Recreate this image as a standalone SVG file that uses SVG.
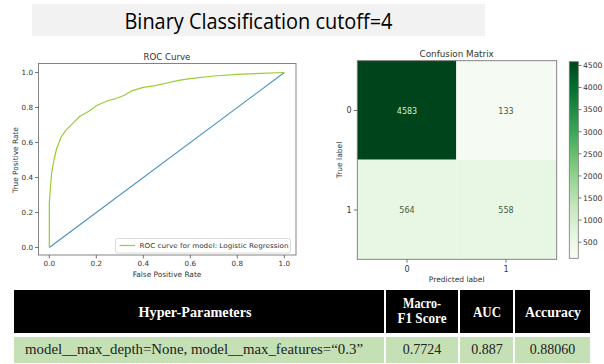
<svg xmlns="http://www.w3.org/2000/svg" width="604" height="364" viewBox="0 0 604 364">
<style>
  .mpl { font-family: "DejaVu Sans", sans-serif; fill: #333; }
  .tick { font-size: 7.2px; }
  .lab { font-size: 7.4px; }
  .ttl { font-size: 8.6px; }
  .frame { fill: none; stroke: #777; stroke-width: 0.9; }
  .tk { stroke: #555; stroke-width: 0.8; }
  .th { font-family: "Liberation Serif", "Times New Roman", serif; font-weight: bold; font-size: 14px; fill: #fff; text-anchor: middle; }
  .td { font-family: "Liberation Serif", "Times New Roman", serif; font-size: 14px; fill: #222; text-anchor: middle; }
  .cm { font-size: 8px; text-anchor: middle; }
</style>
<defs>
  <linearGradient id="greens" x1="0" y1="1" x2="0" y2="0">
    <stop offset="0" stop-color="#f7fcf5"/>
    <stop offset="0.125" stop-color="#e5f5e0"/>
    <stop offset="0.25" stop-color="#c7e9c0"/>
    <stop offset="0.375" stop-color="#a1d99b"/>
    <stop offset="0.5" stop-color="#74c476"/>
    <stop offset="0.625" stop-color="#41ab5d"/>
    <stop offset="0.75" stop-color="#238b45"/>
    <stop offset="0.875" stop-color="#006d2c"/>
    <stop offset="1" stop-color="#00441b"/>
  </linearGradient>
</defs>
<rect width="604" height="364" fill="#fff"/>

<g id="title">
  <rect x="32" y="4" width="453" height="32" fill="#f2f2f2"/>
  <text x="258.5" y="28.5" font-family="Open Sans, Liberation Sans, sans-serif" font-size="22" font-weight="500" fill="#000" text-anchor="middle" textLength="268" lengthAdjust="spacingAndGlyphs">Binary Classification cutoff=4</text>
</g>

<g id="roc-chart">
  <text class="mpl ttl" x="167" y="59.5" text-anchor="middle">ROC Curve</text>
  <rect class="frame" x="38.5" y="63.5" width="257.5" height="191.5"/>
  <g class="tk">
    <line x1="35" y1="72.5" x2="38.5" y2="72.5"/>
    <line x1="35" y1="107.5" x2="38.5" y2="107.5"/>
    <line x1="35" y1="142.5" x2="38.5" y2="142.5"/>
    <line x1="35" y1="177.5" x2="38.5" y2="177.5"/>
    <line x1="35" y1="212.5" x2="38.5" y2="212.5"/>
    <line x1="35" y1="247.5" x2="38.5" y2="247.5"/>
    <line x1="49.3" y1="255" x2="49.3" y2="258.5"/>
    <line x1="96.3" y1="255" x2="96.3" y2="258.5"/>
    <line x1="143.3" y1="255" x2="143.3" y2="258.5"/>
    <line x1="190.3" y1="255" x2="190.3" y2="258.5"/>
    <line x1="237.3" y1="255" x2="237.3" y2="258.5"/>
    <line x1="284.3" y1="255" x2="284.3" y2="258.5"/>
  </g>
  <g class="mpl tick" text-anchor="end">
    <text x="33" y="75">1.0</text>
    <text x="33" y="110">0.8</text>
    <text x="33" y="145">0.6</text>
    <text x="33" y="180">0.4</text>
    <text x="33" y="215">0.2</text>
    <text x="33" y="250">0.0</text>
  </g>
  <g class="mpl tick" text-anchor="middle">
    <text x="49.3" y="266">0.0</text>
    <text x="96.3" y="266">0.2</text>
    <text x="143.3" y="266">0.4</text>
    <text x="190.3" y="266">0.6</text>
    <text x="237.3" y="266">0.8</text>
    <text x="284.3" y="266">1.0</text>
  </g>
  <text class="mpl lab" x="167" y="276.5" text-anchor="middle">False Positive Rate</text>
  <text class="mpl lab" x="0" y="0" text-anchor="middle" transform="translate(17.5 160) rotate(-90)">True Positive Rate</text>
  <line x1="49.3" y1="247.5" x2="284.3" y2="72.5" stroke="#4a8fc0" stroke-width="1.1"/>
  <polyline fill="none" stroke="#9acd32" stroke-width="1.2" stroke-linejoin="round" points="49.3,247.5 49.3,203.8 50.5,186.3 51.7,172.3 54,160 56.4,149.5 61,137.3 65.8,130.3 72.8,123.3 79.9,116.3 89.3,111 96.3,105.8 108,100.5 115.1,98.8 124.5,95.3 131.6,90.9 143.3,87.4 155.1,85.6 166.8,83 178.6,80.4 190.3,78.6 213.8,76 237.3,74.3 260.8,73.4 284.3,72.5"/>
  <g id="legend">
    <rect x="115.5" y="238.5" width="175" height="14.5" rx="2" fill="#fff" fill-opacity="0.85" stroke="#ccc" stroke-width="0.7"/>
    <line x1="119.5" y1="245.5" x2="135" y2="245.5" stroke="#9acd32" stroke-width="1.2"/>
    <text class="mpl" x="139.5" y="248" font-size="6.6" textLength="149" lengthAdjust="spacingAndGlyphs">ROC curve for model: Logistic Regression</text>
  </g>
</g>

<g id="confusion-matrix">
  <text class="mpl" x="456.7" y="57" font-size="8.8" text-anchor="middle">Confusion Matrix</text>
  <rect x="357.3" y="60.7" width="99" height="99" fill="#00441b"/>
  <rect x="456.3" y="60.7" width="100.4" height="99" fill="#f5fbf3"/>
  <rect x="357.3" y="159.7" width="99" height="99.6" fill="#e8f6e4"/>
  <rect x="456.3" y="159.7" width="100.4" height="99.6" fill="#e8f6e4"/>
  <rect class="frame" x="357.3" y="60.7" width="199.4" height="198.6"/>
  <text class="mpl cm" x="407" y="113.5" style="fill:#d9eed4">4583</text>
  <text class="mpl cm" x="506" y="113.5" style="fill:#3f5e3c">133</text>
  <text class="mpl cm" x="407" y="213" style="fill:#3f5e3c">564</text>
  <text class="mpl cm" x="506" y="213" style="fill:#3f5e3c">558</text>
  <g class="tk">
    <line x1="353.8" y1="110.5" x2="357.3" y2="110.5"/>
    <line x1="353.8" y1="210" x2="357.3" y2="210"/>
    <line x1="407" y1="259.3" x2="407" y2="262.8"/>
    <line x1="506" y1="259.3" x2="506" y2="262.8"/>
  </g>
  <g class="mpl" font-size="8">
    <text x="351.5" y="113.3" text-anchor="end">0</text>
    <text x="351.5" y="212.8" text-anchor="end">1</text>
    <text x="407" y="272" text-anchor="middle">0</text>
    <text x="506" y="272" text-anchor="middle">1</text>
  </g>
  <text class="mpl" x="456.7" y="282" font-size="7.5" text-anchor="middle">Predicted label</text>
  <text class="mpl" x="0" y="0" font-size="7.5" text-anchor="middle" transform="translate(342 160) rotate(-90)">True label</text>
  <g id="colorbar">
    <rect x="569.3" y="61.7" width="9" height="196.6" fill="url(#greens)" stroke="#777" stroke-width="0.8"/>
    <g class="tk">
      <line x1="578.3" y1="65.4" x2="581.5" y2="65.4"/>
      <line x1="578.3" y1="87.5" x2="581.5" y2="87.5"/>
      <line x1="578.3" y1="109.6" x2="581.5" y2="109.6"/>
      <line x1="578.3" y1="131.7" x2="581.5" y2="131.7"/>
      <line x1="578.3" y1="153.8" x2="581.5" y2="153.8"/>
      <line x1="578.3" y1="175.9" x2="581.5" y2="175.9"/>
      <line x1="578.3" y1="198" x2="581.5" y2="198"/>
      <line x1="578.3" y1="220.1" x2="581.5" y2="220.1"/>
      <line x1="578.3" y1="242.2" x2="581.5" y2="242.2"/>
    </g>
    <g class="mpl" font-size="7.6">
      <text x="583" y="68.2">4500</text>
      <text x="583" y="90.3">4000</text>
      <text x="583" y="112.4">3500</text>
      <text x="583" y="134.5">3000</text>
      <text x="583" y="156.6">2500</text>
      <text x="583" y="178.7">2000</text>
      <text x="583" y="200.8">1500</text>
      <text x="583" y="222.9">1000</text>
      <text x="583" y="245">500</text>
    </g>
  </g>
</g>

<g id="results-table">
  <rect x="14" y="290" width="370" height="43" fill="#000"/>
  <rect x="386" y="290" width="72" height="43" fill="#000"/>
  <rect x="460" y="290" width="53" height="43" fill="#000"/>
  <rect x="515" y="290" width="75" height="43" fill="#000"/>
  <rect x="14" y="337" width="370" height="26" fill="#c5e0b4"/>
  <rect x="386" y="337" width="72" height="26" fill="#c5e0b4"/>
  <rect x="460" y="337" width="53" height="26" fill="#c5e0b4"/>
  <rect x="515" y="337" width="75" height="26" fill="#c5e0b4"/>
  <text class="th" x="195" y="317" textLength="113" lengthAdjust="spacingAndGlyphs">Hyper-Parameters</text>
  <text class="th" x="422" y="308" textLength="38" lengthAdjust="spacingAndGlyphs">Macro-</text>
  <text class="th" x="422" y="322.5" textLength="49" lengthAdjust="spacingAndGlyphs">F1 Score</text>
  <text class="th" x="487" y="317" textLength="28" lengthAdjust="spacingAndGlyphs">AUC</text>
  <text class="th" x="553" y="317" textLength="56" lengthAdjust="spacingAndGlyphs">Accuracy</text>
  <text class="td" x="25" y="354" style="text-anchor:start" textLength="338" lengthAdjust="spacingAndGlyphs">model__max_depth=None, model__max_features=“0.3”</text>
  <text class="td" x="422" y="354">0.7724</text>
  <text class="td" x="487" y="354">0.887</text>
  <text class="td" x="552.5" y="354">0.88060</text>
</g>
</svg>
